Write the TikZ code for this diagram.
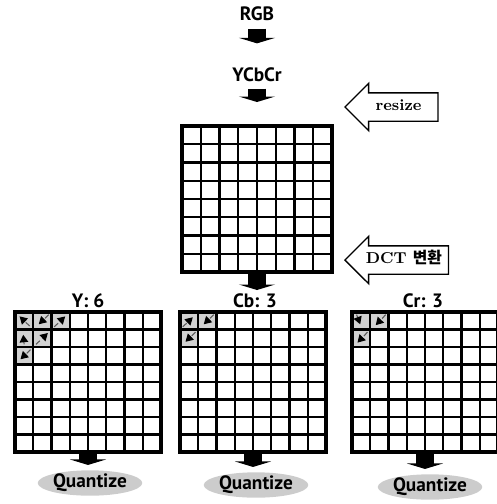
\documentclass[tikz,border=0pt]{standalone}
\usepackage{fontspec}
\setsansfont{PT Sans}
\newfontfamily\kr{Noto Sans CJK KR}
\usepackage{tikz}
\usetikzlibrary{arrows.meta,positioning,shapes.geometric,shapes.arrows,calc}

\tikzset{
    stagetext/.style={font=\sffamily\bfseries\fontsize{11}{13}\selectfont, inner sep=1pt},
    blockarrow/.style={line width=3.5mm, -{Triangle[width=7.2mm,length=1.1mm]}},
    cellgrid/.style={rectangle, inner sep=0pt, outer sep=0pt},
    gridborder/.style={line width=2pt},
    cellline/.style={line width=1.3pt},
    zigcell/.style={fill=gray!35},
    zigmark/.style={densely dashed, line width=0.6pt, gray!70!black, -{Triangle[black,width=1.7mm,length=1.5mm]}},
    callout/.style={single arrow, draw, thick, fill=white, shape border rotate=180,
        single arrow head extend=0.19cm, minimum height=1.86cm,
        text height=0.2cm, text depth=0.05cm, inner ysep=0.145cm,
        font=\rmfamily\bfseries\small},
    quantbox/.style={ellipse, fill=gray!40, minimum width=1.72cm, minimum height=0.42cm,
        inner sep=0pt, font=\sffamily\bfseries\fontsize{11}{13}\selectfont}
}

\begin{document}
\begin{tikzpicture}[x=0.02cm, y=-0.02cm]
    \useasboundingbox (0,0) rectangle (497,504);

    % colour stages
    \node[stagetext] (rgb) at (257,14) {RGB};
    \node[stagetext] (ycbcr) at (257,75) {YCbCr};

    % blocks
    \node[cellgrid, minimum width=3cm, minimum height=2.92cm] (big) at (257,199) {};
    \node[cellgrid, minimum width=2.92cm, minimum height=2.8cm] (ygrid) at (88,382) {};
    \node[cellgrid, minimum width=2.92cm, minimum height=2.8cm] (cbgrid) at (253,382) {};
    \node[cellgrid, minimum width=2.92cm, minimum height=2.8cm] (crgrid) at (425,382) {};

    \node[stagetext] (ylab) at (88,301) {Y: 6};
    \node[stagetext] (cblab) at (255,301) {Cb: 3};
    \node[stagetext] (crlab) at (423,301) {Cr: 3};

    \coordinate (split) at (257,290);

    % side notes
    \node[callout, anchor=tip] (resize) at (344,107) {resize};
    \node[callout, anchor=tip] (dct) at (344,260) {DCT {\kr 변환}};

    \node[quantbox] (qy) at (90,483) {Quantize};
    \node[quantbox] (qcb) at (256,485) {Quantize};
    \node[quantbox] (qcr) at (430,487) {Quantize};

    % zigzag coefficients
    \begin{scope}[shift={(ygrid.north west)}, x=0.365cm, y=-0.35cm]
        \fill[zigcell] (0,0) rectangle (3,1) (0,1) rectangle (2,2) (0,2) rectangle (1,3);
        \draw[zigmark] (0.8,0.8) -- (0.25,0.25);
        \draw[zigmark] (1.85,0.15) -- (1.3,0.7);
        \draw[zigmark] (2.15,0.85) -- (2.75,0.25);
        \draw[zigmark] (0.5,1.85) -- (0.45,1.3);
        \draw[zigmark] (1.15,1.85) -- (1.8,1.2);
        \draw[zigmark] (0.85,2.15) -- (0.3,2.7);
    \end{scope}
    \begin{scope}[shift={(cbgrid.north west)}, x=0.365cm, y=-0.35cm]
        \fill[zigcell] (0,0) rectangle (2,1) (0,1) rectangle (1,2);
        \draw[zigmark] (0.15,0.85) -- (0.7,0.3);
        \draw[zigmark] (1.85,0.15) -- (1.3,0.7);
        \draw[zigmark] (0.85,1.15) -- (0.3,1.7);
    \end{scope}
    \begin{scope}[shift={(crgrid.north west)}, x=0.365cm, y=-0.35cm]
        \fill[zigcell] (0,0) rectangle (2,1) (0,1) rectangle (1,2);
        \draw[zigmark] (0.25,0.15) -- (0.45,0.7);
        \draw[zigmark] (1.85,0.15) -- (1.3,0.75);
        \draw[zigmark] (0.85,1.15) -- (0.3,1.75);
    \end{scope}

    % 8x8 grids
    \foreach \g/\cw/\ch in {big/0.375/0.365, ygrid/0.365/0.35, cbgrid/0.365/0.35, crgrid/0.365/0.35} {
        \begin{scope}[shift={(\g.north west)}, x=\cw cm, y=-\ch cm]
            \foreach \k in {1,...,7} {
                \draw[cellline] (\k,0) -- (\k,8);
                \draw[cellline] (0,\k) -- (8,\k);
            }
            \draw[gridborder] (0,0) rectangle (8,8);
        \end{scope}
    }

    \draw[blockarrow, shorten <=0.11cm, shorten >=0.45cm] (rgb) -- (ycbcr);
    \draw[blockarrow, shorten <=0.09cm, shorten >=0.48cm] (ycbcr) -- (big);
    \draw[blockarrow] (big.south) -- (split);
    \draw[blockarrow, shorten >=0.1cm] (ygrid.south) -- (ygrid.south |- qy.north);
    \draw[blockarrow, shorten >=0.1cm] (cbgrid.south) -- (cbgrid.south |- qcb.north);
    \draw[blockarrow, shorten >=0.1cm] (crgrid.south) -- (crgrid.south |- qcr.north);
\end{tikzpicture}
\end{document}
